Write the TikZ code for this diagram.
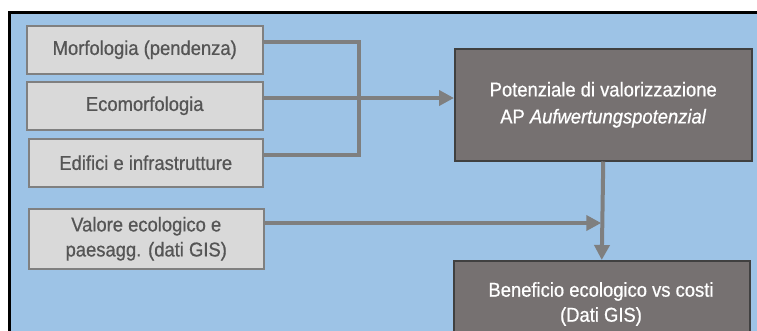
\documentclass[tikz,border=0pt]{standalone}
\usepackage{fontspec}
\setmainfont{Liberation Sans}[FakeStretch=0.92,FakeBold=0.7]
\usetikzlibrary{arrows.meta}
\definecolor{bgblue}{HTML}{9DC3E6}
\definecolor{lightbox}{HTML}{D9D9D9}
\definecolor{lightedge}{HTML}{808080}
\definecolor{lighttext}{HTML}{555555}
\definecolor{darkbox}{HTML}{767171}
\definecolor{darkedge}{HTML}{404040}
\definecolor{linkgray}{HTML}{7F7F7F}
\tikzset{
  inbox/.style={draw=lightedge, line width=1.5pt, fill=lightbox, text=lighttext,
    font=\fontsize{20}{25}\selectfont, align=center, inner sep=0pt, anchor=north west},
  outbox/.style={draw=darkedge, line width=1.5pt, fill=darkbox, text=white,
    font=\fontsize{20}{27}\selectfont, align=center, inner sep=0pt, anchor=north west},
  link/.style={draw=linkgray, line width=4pt},
  arrowlink/.style={link, -{Triangle[length=15pt,width=15pt]}}
}
\begin{document}
\begin{tikzpicture}[x=1pt,y=-1pt]
  \useasboundingbox (0,0) rectangle (757,330);
  \begin{scope}
    \clip (0,0) rectangle (757,330);
    \fill[white] (0,0) rectangle (757,330);
    \draw[fill=bgblue, line width=3pt] (9.5,12) rectangle (800,400);

    % input data boxes
    \node[inbox, minimum width=236pt, minimum height=48pt] (morf) at (26,25) {Morfologia (pendenza)};
    \node[inbox, minimum width=236pt, minimum height=48pt] (eco) at (26,81) {Ecomorfologia};
    \node[inbox, minimum width=234pt, minimum height=48pt] (edif) at (28,138) {Edifici e infrastrutture};
    \node[inbox, minimum width=235pt, minimum height=60pt] (val) at (28,208) {Valore ecologico e\\paesagg. (dati GIS)};

    % result boxes
    \node[outbox, minimum width=297pt, minimum height=112pt] (pot) at (454,48) {Potenziale di valorizzazione\\AP \textit{Aufwertungspotenzial}};
    \node[outbox, minimum width=296pt, minimum height=110pt] (ben) at (453,260) {};
    \node[text=white, font=\fontsize{20}{25}\selectfont, align=center] (bentext) at (601,304) {Beneficio ecologico vs costi\\(Dati GIS)};

    % connectors
    \coordinate (topy) at (0,42);
    \coordinate (midy) at (0,98);
    \coordinate (boty) at (0,155);
    \coordinate (valy) at (0,223);
    \coordinate (busx) at (359,0);
    \draw[link] (morf.east |- topy) -- (busx |- topy) -- (busx |- boty) -- (edif.east |- boty);
    \draw[arrowlink] (eco.east |- midy) -- (pot.west |- midy);
    \draw[arrowlink] (pot.south) -- (ben.north);
    \draw[arrowlink] (val.east |- valy) -- ([xshift=-2pt]pot.south |- valy);
  \end{scope}
\end{tikzpicture}
\end{document}
